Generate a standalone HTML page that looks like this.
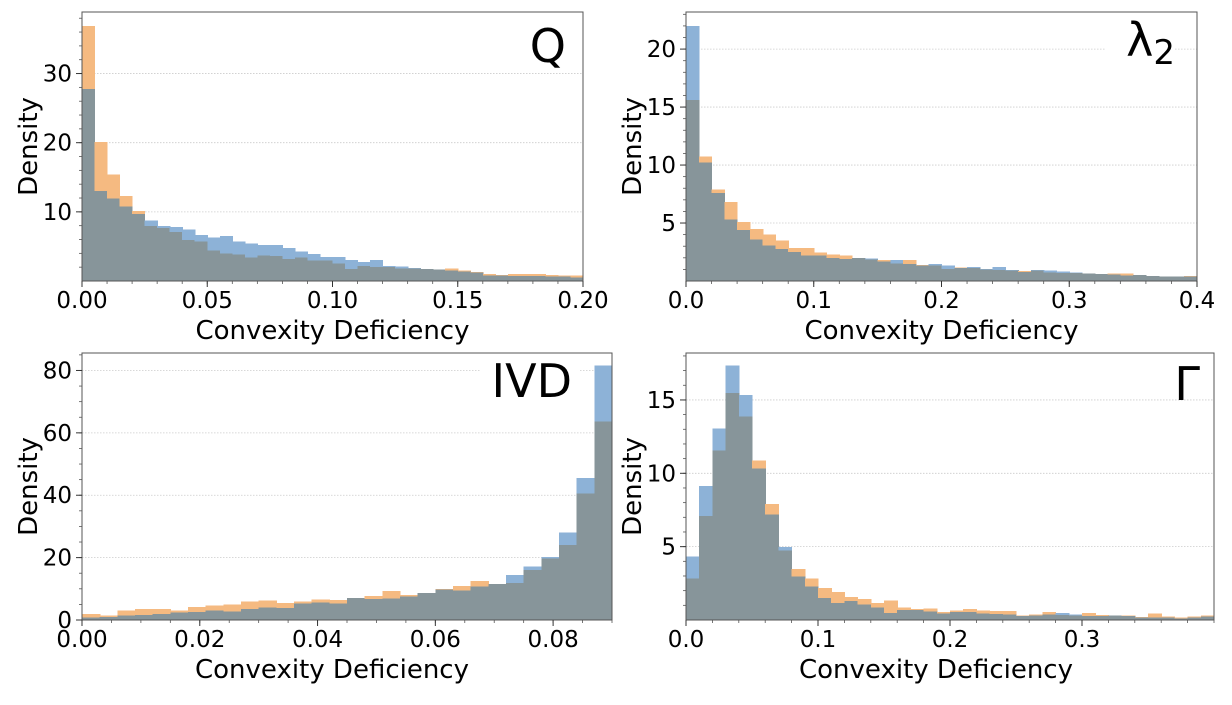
<!DOCTYPE html>
<html><head><meta charset="utf-8"><style>
html,body{margin:0;padding:0;background:#fff;}
svg{display:block;font-family:"DejaVu Sans","Liberation Sans",sans-serif;}
</style></head><body>
<svg id="fig" width="1232" height="705" viewBox="0 0 1232 705"></svg>
<script>
const qOrange=[36.9,20.1,15.4,12.3,10.1,7.94,7.65,7.07,5.96,5.71,4.4,4.0,3.8,3.4,3.7,3.6,3.2,3.4,3.0,3.0,2.5,1.74,2.2,2.0,2.0,1.84,1.8,1.74,1.65,1.8,1.55,1.3,1.0,0.9,1.0,1.0,1.0,0.9,0.8,0.8];
const qBlue=[27.8,13.0,11.9,10.75,9.7,8.77,7.94,7.8,7.46,6.68,6.3,6.5,5.7,5.4,5.2,5.2,4.8,4.26,3.9,3.5,3.5,3.05,2.76,3.05,2.2,2.1,1.9,1.74,1.65,1.55,1.4,1.2,0.8,0.8,0.73,0.73,0.7,0.63,0.63,0.5];
const lOrange=[15.6,10.75,7.9,6.8,5.1,4.5,4.0,3.5,2.86,2.83,2.46,2.3,2.2,2.0,1.85,1.8,1.53,1.8,1.39,1.33,1.04,1.18,1.13,1.0,0.95,0.9,0.87,0.9,0.75,0.69,0.7,0.64,0.6,0.64,0.64,0.52,0.43,0.37,0.37,0.43];
const lBlue=[22.0,10.2,7.6,5.3,4.4,3.6,3.06,2.75,2.5,2.2,2.2,2.0,1.9,2.0,1.94,1.68,1.8,1.45,1.33,1.47,1.33,1.13,1.21,1.04,1.21,0.95,0.78,0.95,0.9,0.84,0.72,0.64,0.6,0.55,0.46,0.52,0.43,0.37,0.37,0.37];
const iOrange=[1.9,1.5,3.1,3.5,3.5,3.1,4.2,4.7,4.9,5.9,6.2,5.5,5.9,6.5,6.4,7.0,7.7,9.3,8.0,8.7,10.0,10.9,12.5,11.6,11.9,16.1,19.7,24.0,40.6,63.7];
const iBlue=[0.75,1.0,1.4,1.6,1.9,2.35,2.6,3.0,2.8,3.6,4.05,3.9,5.3,5.65,5.3,7.0,6.7,6.9,7.6,8.7,9.8,9.5,10.7,11.6,14.5,17.1,20.2,28.1,45.5,81.6];
const gOrange=[2.84,7.09,11.54,15.49,13.86,10.88,7.92,4.74,3.48,2.84,2.19,1.92,1.58,1.42,1.15,1.33,0.84,0.75,0.79,0.54,0.65,0.75,0.65,0.63,0.61,0.32,0.36,0.54,0.34,0.32,0.47,0.34,0.29,0.32,0.2,0.45,0.25,0.16,0.25,0.32];
const gBlue=[4.33,9.14,13.05,17.36,15.33,10.34,7.18,4.97,2.98,2.28,1.49,1.17,1.31,1.04,0.84,0.47,0.68,0.68,0.59,0.43,0.54,0.54,0.45,0.41,0.36,0.27,0.32,0.36,0.47,0.38,0.27,0.27,0.29,0.27,0.16,0.16,0.16,0.11,0.18,0.23];
const qXTicks=[0,0.05,0.10,0.15,0.20], qXLabels=["0.00","0.05","0.10","0.15","0.20"], qYTicks=[10,20,30];
const lXTicks=[0,0.1,0.2,0.3,0.4], lXLabels=["0.0","0.1","0.2","0.3","0.4"], lYTicks=[5,10,15,20];
const iXTicks=[0,0.02,0.04,0.06,0.08], iXLabels=["0.00","0.02","0.04","0.06","0.08"], iYTicks=[0,20,40,60,80];
const gXTicks=[0,0.1,0.2,0.3], gXLabels=["0.0","0.1","0.2","0.3"], gYTicks=[5,10,15];

const NS="http://www.w3.org/2000/svg";
const fig=document.getElementById('fig');
function mk(tag,attrs,parent){const e=document.createElementNS(NS,tag);for(const k in attrs)e.setAttribute(k,attrs[k]);(parent||fig).appendChild(e);return e;}

function panel(cfg){
  const g=mk('g',{});
  
  
  const L=cfg.x0,R=cfg.x1,T=cfg.y0,B=cfg.y1;
  const sx=v=>L+(v-cfg.xmin)/(cfg.xmax-cfg.xmin)*(R-L);
  const sy=v=>B-v/cfg.ymax*(B-T);
  cfg.yTicks.forEach(t=>{if(t>0){const l=mk('line',{x1:L,x2:R,y1:sy(t),y2:sy(t),stroke:'#ccc','stroke-width':0.8,'stroke-dasharray':'1.5,1.5'},g);
    
    }});
  const bars=mk('g',{'shape-rendering':'crispEdges'},g);
  const n=cfg.orange.length, bw=(cfg.binMax-cfg.xmin)/n;
  for(let i=0;i<n;i++){
    const xa=sx(cfg.xmin+i*bw), xb=sx(cfg.xmin+(i+1)*bw);
    const o=cfg.orange[i], b=cfg.blue[i], m=Math.min(o,b);
    const w=xb-xa+0.6;
    if(o>m){const r=mk('rect',{x:xa,y:sy(o),width:w,height:sy(m)-sy(o)+0.5,fill:'#f5ba81'},bars);
      
      }
    if(b>m){const r=mk('rect',{x:xa,y:sy(b),width:w,height:sy(m)-sy(b)+0.5,fill:'#8db2d7'},bars);
      
      }
    const r=mk('rect',{x:xa,y:sy(m),width:w,height:B-sy(m),fill:'#87959a'},bars);
    
    
  }
  const fr=mk('rect',{x:L,y:T,width:R-L,height:B-T,fill:'none',stroke:'#555','stroke-width':1},g);
  
  
  const ym=cfg.minorY;
  for(let v=ym;v<cfg.ymax;v+=ym){mk('line',{x1:L-3,x2:L,y1:sy(v),y2:sy(v),stroke:'#555','stroke-width':0.8},g);}
  const xm=cfg.minorX;
  for(let v=cfg.xmin;v<=cfg.xmax+1e-9;v+=xm){mk('line',{x1:sx(v),x2:sx(v),y1:B,y2:B+3,stroke:'#555','stroke-width':0.8},g);}
  cfg.xTicks.forEach((t,i)=>{
    mk('line',{x1:sx(t),x2:sx(t),y1:B,y2:B+6,stroke:'#333','stroke-width':1},g);
    const tx=mk('text',{x:sx(t),y:B+27,'font-size':23,'text-anchor':'middle',fill:'#000'},g);
    tx.textContent=cfg.xLabels[i];
    
    
  });
  cfg.yTicks.forEach(t=>{
    mk('line',{x1:L-6,x2:L,y1:sy(t),y2:sy(t),stroke:'#333','stroke-width':1},g);
    const tx=mk('text',{x:L-10,y:sy(t)+8,'font-size':23,'text-anchor':'end',fill:'#000'},g);
    tx.textContent=String(t);
    
    
  });
  const xl=mk('text',{x:(L+R)/2-(cfg.xlOff||0),y:B+58,'font-size':26,'text-anchor':'middle',fill:'#000'},g);
  xl.textContent='Convexity Deficiency';
  
  
  const yl=mk('text',{x:0,y:0,'font-size':26,'text-anchor':'middle',fill:'#000',transform:`translate(${L-45},${(T+B)/2}) rotate(-90)`},g);
  yl.textContent='Density';
  
  
  return g;
}

panel({name:'panel-q',x0:82,x1:583,y0:12,y1:281,xmin:0,xmax:0.2,binMax:0.2,ymax:38.9,orange:qOrange,blue:qBlue,xTicks:qXTicks,xLabels:qXLabels,yTicks:qYTicks,minorY:2,minorX:0.01});
panel({name:'panel-lambda2',x0:686,x1:1197,y0:12,y1:281,xmin:0,xmax:0.4,binMax:0.4,ymax:23.2,orange:lOrange,blue:lBlue,xTicks:lXTicks,xLabels:lXLabels,yTicks:lYTicks,minorY:1,minorX:0.02});
panel({name:'panel-ivd',x0:82,x1:612,y0:353,y1:620,xmin:0,xmax:0.09,binMax:0.09,ymax:85.6,orange:iOrange,blue:iBlue,xTicks:iXTicks,xLabels:iXLabels,yTicks:iYTicks,minorY:5,minorX:0.005,xlOff:15});
panel({name:'panel-gamma',x0:686,x1:1214,y0:353,y1:620,xmin:0,xmax:0.4,binMax:0.4,ymax:18.2,orange:gOrange,blue:gBlue,xTicks:gXTicks,xLabels:gXLabels,yTicks:gYTicks,minorY:1,minorX:0.02,xlOff:14});

function title(txt,x,y,name,anchor){const t=mk('text',{x:x,y:y,'font-size':46,'text-anchor':anchor||'end',fill:'#000'});t.innerHTML=txt;
  
  }
mk('rect',{x:1105,y:40,width:70,height:18,fill:'#fff'});
mk('rect',{x:480,y:368,width:100,height:18,fill:'#fff'});
mk('rect',{x:1140,y:385,width:70,height:6,fill:'#fff'});
title('Q',566,62,'panel-title-q');
title('λ<tspan font-size="34" dy="8">2</tspan>',1175,56,'panel-title-lambda2');
title('IVD',572,397,'panel-title-ivd');
title('Γ',1200,400,'panel-title-gamma');
</script>
</body></html>
